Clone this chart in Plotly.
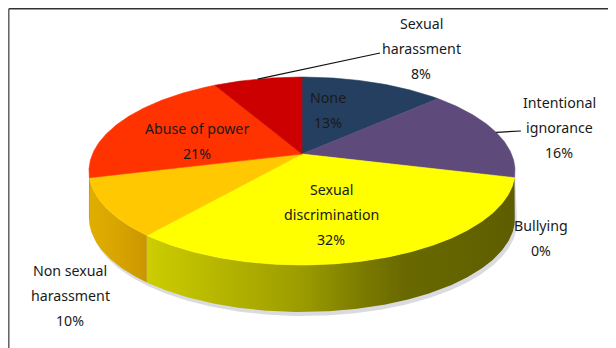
import math
import plotly.graph_objects as go

# ---- data ----
categories = ["None", "Intentional ignorance", "Bullying", "Sexual discrimination",
              "Non sexual harassment", "Abuse of power", "Sexual harassment"]
values = [13, 16, 0, 32, 10, 21, 8]
label_lines = [["None"], ["Intentional", "ignorance"], ["Bullying"],
               ["Sexual", "discrimination"], ["Non sexual", "harassment"],
               ["Abuse of power"], ["Sexual", "harassment"]]

# ---- style ----
top_colors = ["#243F60", "#5F4B7B", "#8B8B8B", "#FFFF00", "#FFC800", "#FF3300", "#CC0000"]
side_scales = {
    1: [[0, "#3E3050"], [1, "#3A2C4C"]],
    3: [[0, "#CDCD00"], [0.22, "#B3B300"], [0.42, "#9C9C00"], [0.58, "#7C7C00"],
        [0.7, "#696900"], [1, "#5E5E00"]],
    4: [[0, "#E0AE00"], [0.5, "#D8A400"], [1, "#C99600"]],
}
# label placement (pixel layout), first line centre and line step
label_pos = {0: (328, 97), 1: (559, 102), 2: (541, 225), 3: (331, 189),
             4: (70, 270), 5: (197, 128), 6: (421, 23)}
line_step = 25
leader_ends = {6: (380, 53), 1: (521, 131)}

W, H = 616, 348
OFF = 8  # page body margin of the html page
cx, cy, A, B, k, depth = 302.0, 154.0, 209.5, 90.9, 0.181, 47.0


def proj(theta, dy=0.0):
    t = math.radians(theta)
    X, Z = math.sin(t), math.cos(t)
    den = 1 + k * Z
    return cx + A * X / den, cy - B * Z / den + dy


def arc(a, b, dy=0.0, step=0.5):
    n = max(2, int(abs(b - a) / step) + 1)
    pts = [proj(a + (b - a) * i / (n - 1), dy) for i in range(n)]
    return [p[0] for p in pts], [p[1] for p in pts]


total = sum(values)
starts, ends = [], []
acc = 0.0
for v in values:
    starts.append(acc / total * 360)
    acc += v
    ends.append(acc / total * 360)

fig = go.Figure()

vis_a = math.degrees(math.acos(-k))
vis_b = 360 - vis_a

# shadow under the pie
sx1, sy1 = arc(vis_a, vis_b, depth + 4)
sx0, sy0 = arc(vis_a, vis_b, 0)
fig.add_trace(go.Scatter(x=[x + 2 for x in sx1] + sx0[::-1], y=sy1 + sy0[::-1],
                         fill="toself", fillcolor="rgba(150,150,170,0.35)",
                         line=dict(width=0), mode="lines", hoverinfo="skip"))

# side faces
for i, v in enumerate(values):
    if v <= 0:
        continue
    a, b = max(starts[i], vis_a), min(ends[i], vis_b)
    if b <= a:
        continue
    tx, ty = arc(a, b)
    bx, by = arc(a, b, depth)
    xs = tx + bx[::-1]
    ys = ty + by[::-1]
    scale = side_scales.get(i, [[0, top_colors[i]], [1, top_colors[i]]])
    fig.add_trace(go.Scatter(x=xs + [xs[0]], y=ys + [ys[0]], fill="toself",
                             fillgradient=dict(type="horizontal", colorscale=scale),
                             line=dict(width=0), mode="lines", hoverinfo="skip"))

# top faces
for i, v in enumerate(values):
    if v <= 0:
        continue
    ax_, ay_ = arc(starts[i], ends[i])
    xs = [cx] + ax_ + [cx]
    ys = [cy] + ay_ + [cy]
    fig.add_trace(go.Scatter(x=xs, y=ys, fill="toself", fillcolor=top_colors[i],
                             line=dict(width=0.6, color=top_colors[i]),
                             mode="lines", hoverinfo="skip"))

# leader lines
for i, (ex, ey) in leader_ends.items():
    mx, my = proj((starts[i] + ends[i]) / 2)
    fig.add_trace(go.Scatter(x=[mx, ex], y=[my, ey], mode="lines",
                             line=dict(color="#111111", width=1.2), hoverinfo="skip"))

# labels
annotations = []
for i, lines in enumerate(label_lines):
    x0, y0 = label_pos[i]
    pct = f"{round(values[i] / total * 100)}%"
    for j, t in enumerate(lines + [pct]):
        annotations.append(dict(x=x0, y=y0 + j * line_step, text=t, showarrow=False,
                                xref="x", yref="y", xanchor="center", yanchor="middle",
                                font=dict(family="Noto Sans", size=14.2, color="#1a1a1a")))

fig.update_layout(
    width=W - OFF, height=H - OFF, margin=dict(l=0, r=0, t=0, b=0),
    paper_bgcolor="white", plot_bgcolor="white", showlegend=False,
    xaxis=dict(range=[OFF, W], visible=False, fixedrange=True),
    yaxis=dict(range=[H, OFF], visible=False, fixedrange=True),
    annotations=annotations,
    shapes=[
        dict(type="line", xref="x", yref="y", x0=8.8, y0=8.8, x1=W, y1=8.8,
             line=dict(color="#333333", width=1.6)),
        dict(type="line", xref="x", yref="y", x0=8.8, y0=8.8, x1=8.8, y1=H,
             line=dict(color="#555555", width=1.4)),
    ],
)

fig.write_html("out.html")
